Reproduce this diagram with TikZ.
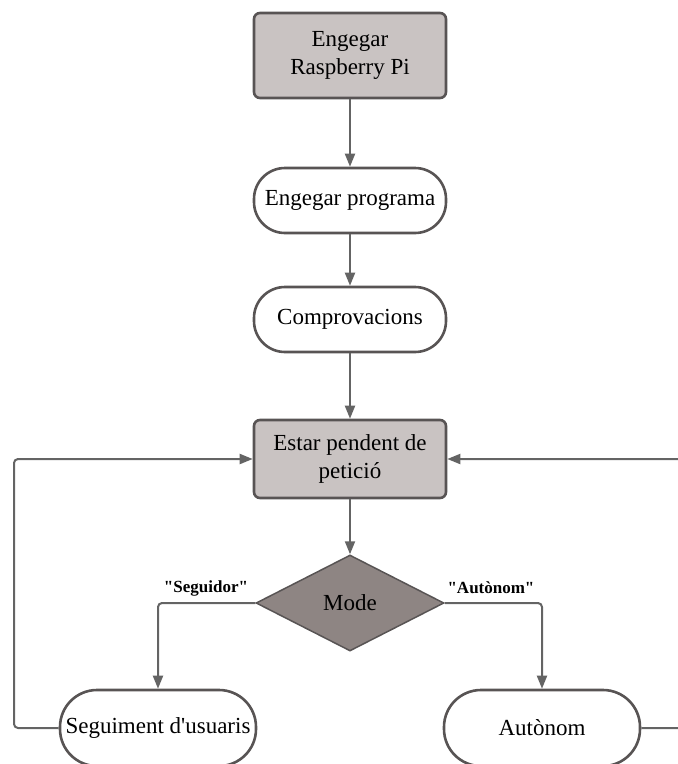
\documentclass[tikz,border=0pt]{standalone}
\usepackage{fontspec}
\setmainfont{Liberation Serif}[Ligatures=TeXOff]
\usetikzlibrary{shapes.geometric,arrows.meta}
\definecolor{boxfill}{RGB}{201,195,194}
\definecolor{dfill}{RGB}{142,133,131}
\definecolor{edgec}{RGB}{88,84,84}
\definecolor{linec}{RGB}{100,100,100}
\begin{document}
\begin{tikzpicture}[x=1pt,y=-1pt,
  base/.style={draw=edgec, line width=2.6pt, font=\fontsize{23}{28}\selectfont, align=center, inner sep=0pt},
  procbox/.style={base, fill=boxfill, rounded corners=6pt, minimum width=192pt},
  term/.style={base, fill=white, rounded corners=31pt, minimum width=192pt, minimum height=65pt},
  bigterm/.style={base, fill=white, rounded corners=37pt, minimum width=196pt, minimum height=76pt},
  decide/.style={base, diamond, fill=dfill, minimum width=188pt, minimum height=96pt, line width=1.5pt},
  conn/.style={draw=linec, line width=2pt, rounded corners=4pt, -{Triangle[length=13pt,width=10pt]}},
  lab/.style={font=\fontsize{17}{20}\selectfont\bfseries, inner sep=0pt}]
\useasboundingbox (0,0) rectangle (678,764);
\clip (0,0) rectangle (678,764);
\node[procbox, minimum height=85pt] (n1) at (350,55.5) {Engegar\\Raspberry Pi};
\node[term] (n2) at (350,200.5) {Engegar programa};
\node[term] (n3) at (350,319.5) {Comprovacions};
\node[procbox, minimum height=78pt] (n4) at (350,459) {Estar pendent de\\petició};
\node[decide] (d) at (350,603) {Mode};
\node[bigterm] (s) at (158,728) {Seguiment d'usuaris};
\node[bigterm] (a) at (542,728) {Autònom};
\node[lab] (l1) at (206,588) {"Seguidor"};
\node[lab] (l2) at (491,588) {"Autònom"};
\coordinate (lc) at (14,728);
\coordinate (rc) at (700,728);
\draw[conn] (n1) -- (n2);
\draw[conn] (n2) -- (n3);
\draw[conn] (n3) -- (n4);
\draw[conn] (n4) -- (d);
\draw[conn] (d.west) -| (s.north);
\draw[conn] (d.east) -| (a.north);
\draw[conn] (s.west) -- (lc) |- (n4.west);
\draw[conn] (a.east) -- (rc) |- (n4.east);
\end{tikzpicture}
\end{document}
